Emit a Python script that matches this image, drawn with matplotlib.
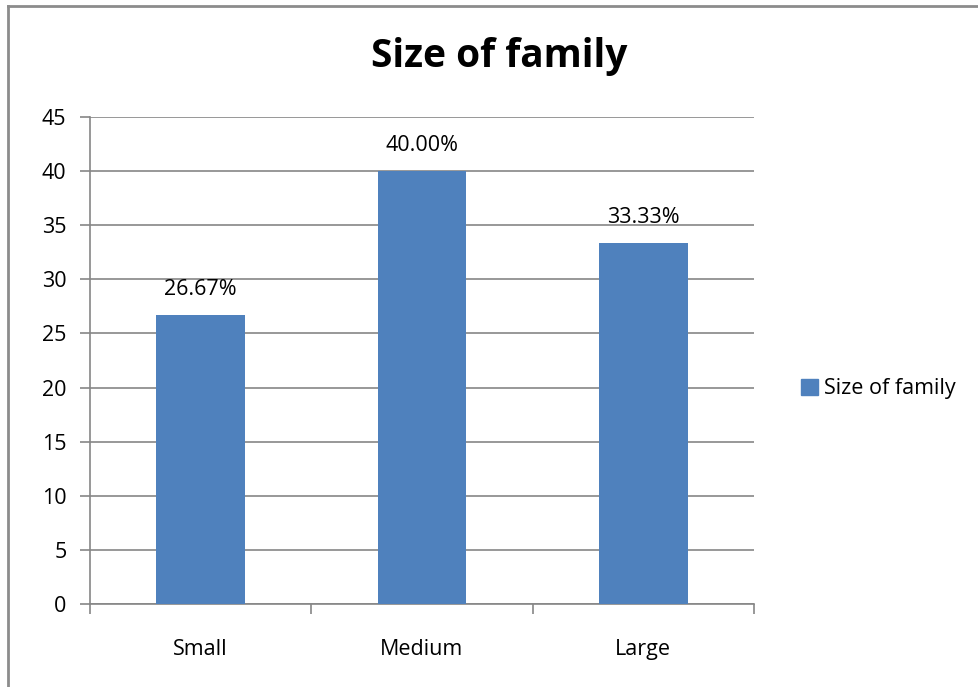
import matplotlib.pyplot as plt
from matplotlib.lines import Line2D
from matplotlib.patches import Patch

# data
categories = ['Small', 'Medium', 'Large']
values = [26.67, 40.00, 33.33]
labels = ['26.67%', '40.00%', '33.33%']
series_name = 'Size of family'

plt.rcParams['font.family'] = ['Open Sans', 'DejaVu Sans']

fig = plt.figure(figsize=(9.79, 6.87), dpi=100)
ax = fig.add_axes([90/979, 1-604/687, (754-90)/979, (604-117)/687])

grey = '#868686'
fs = 15.5
x = range(len(categories))
bars = ax.bar(x, values, width=0.4, color='#4F81BD', zorder=3, label=series_name)

for b, lab in zip(bars, labels):
    ax.text(b.get_x() + b.get_width()/2, b.get_height() + 1.4, lab,
            ha='center', va='bottom', fontsize=fs)

ax.set_xlim(-0.5, 2.5)
ax.set_ylim(0, 45)
ax.set_yticks(range(0, 46, 5))
ax.set_xticks([-0.5, 0.5, 1.5, 2.5])
ax.set_xticklabels([])
ax.set_xticks(list(x), minor=True)
ax.set_xticklabels(categories, minor=True)
ax.tick_params(axis='x', which='minor', length=0, pad=25, labelsize=fs)
ax.tick_params(axis='x', which='major', direction='out', length=7, color=grey, width=1.2)
ax.tick_params(axis='y', direction='out', length=7, color=grey, width=1.2, labelsize=fs, pad=10)

ax.grid(axis='y', color=grey, linewidth=1.2, zorder=0)
for s in ['top', 'right']:
    ax.spines[s].set_visible(False)
for s in ['left', 'bottom']:
    ax.spines[s].set_color(grey)
    ax.spines[s].set_linewidth(1.2)

fig.text(499/979, 1-57/687, 'Size of family', ha='center', va='center',
         fontsize=28, fontweight='bold')

fig.legend(handles=[Patch(color='#4F81BD', label=series_name)],
           loc='center left', bbox_to_anchor=(782/979, 1-389/687),
           frameon=False, fontsize=fs, handlelength=0.75, handleheight=0.75,
           handletextpad=0.3)

# outer chart border (top and left edges visible)
fig.add_artist(Line2D([8/979, 8/979], [0, 1-6/687], transform=fig.transFigure,
                      color='#8c8c8c', linewidth=2))
fig.add_artist(Line2D([8/979, 1], [1-6/687, 1-6/687], transform=fig.transFigure,
                      color='#8c8c8c', linewidth=2))

fig.savefig('out.png', dpi=100)
